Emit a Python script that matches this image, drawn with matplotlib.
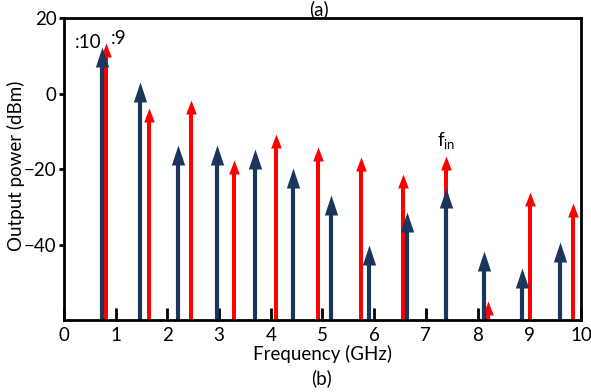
import matplotlib
matplotlib.use("Agg")
import matplotlib.pyplot as plt

plt.rcParams['font.family'] = ['Lato', 'DejaVu Sans']

# Divide-by-10 output components (navy)
navy_freq = [0.738, 1.476, 2.214, 2.952, 3.69, 4.428, 5.166, 5.904, 6.642, 7.38, 8.118, 8.856, 9.594]
navy_power = [12.3, 3.1, -13.7, -13.7, -14.7, -19.6, -26.9, -40.0, -31.4, -25.1, -41.7, -46.1, -39.3]
# Divide-by-9 output components (red)
red_freq = [0.82, 1.64, 2.46, 3.28, 4.10, 4.92, 5.74, 6.56, 7.38, 8.20, 9.02, 9.84]
red_power = [13.4, -3.8, -1.6, -17.5, -10.6, -14.1, -16.8, -21.2, -16.5, -55.0, -26.1, -29.1]

xticks = [0, 1, 2, 3, 4, 5, 6, 7, 8, 9, 10]
yticks = [-40, -20, 0, 20]

navy = '#1B365D'
red = '#FF0000'

YMIN, YMAX = -60, 20
fig = plt.figure(figsize=(5.91, 3.92), dpi=100)
ax = fig.add_axes([0.1083, 0.1837, 0.983 - 0.1083, 0.954 - 0.1837])
ax.set_xlim(0, 10)
ax.set_ylim(YMIN, YMAX)
ax_h_px = (0.954 - 0.1837) * 392
dB_per_px = (YMAX - YMIN) / ax_h_px


def draw_arrows(freqs, powers, color, head_len_px, half_w_ratio, shaft_lw, z):
    ms = 2 * head_len_px * 0.72
    marker = [(0, 0), (-half_w_ratio, -1), (half_w_ratio, -1), (0, 0)]
    shaft_top = [p - 0.6 * head_len_px * dB_per_px for p in powers]
    ax.vlines(freqs, YMIN, shaft_top, colors=color, lw=shaft_lw, zorder=z,
              clip_on=False)
    ax.plot(freqs, powers, ls='none', marker=marker, ms=ms, mfc=color,
            mec=color, mew=0, zorder=z, clip_on=False)


draw_arrows(red_freq, red_power, red, 14, 0.38, 2.9, 3)
draw_arrows(navy_freq, navy_power, navy, 20, 0.333, 3.0, 4)

ax.set_xticks(xticks)
ax.set_yticks(yticks)
ax.tick_params(axis='x', direction='in', length=9, width=2, labelsize=13.5, pad=5)
ax.tick_params(axis='y', direction='out', length=3.5, width=2, labelsize=13.5, pad=2)
for s in ax.spines.values():
    s.set_linewidth(2)
    s.set_zorder(5)

ax.set_xlabel('Frequency (GHz)', fontsize=13.5, labelpad=1)
ax.set_ylabel('Output power (dBm)', fontsize=13.5)
ax.yaxis.set_label_coords(-0.075, 0.51)

ax.text(0.21, 12.0, ':10', fontsize=13.5, ha='left', va='baseline')
ax.text(0.9, 13.2, ':9', fontsize=13.5, ha='left', va='baseline')
ax.text(7.39, -14.0, r'f$_{\mathregular{in}}$', fontsize=13.5, ha='center', va='baseline')

fig.text(0.54, 0.999, '(a)', fontsize=13.5, ha='center', va='top')
fig.text(0.544, 0.035, '(b)', fontsize=13.5, ha='center', va='center')

fig.savefig('out.png', dpi=100)
